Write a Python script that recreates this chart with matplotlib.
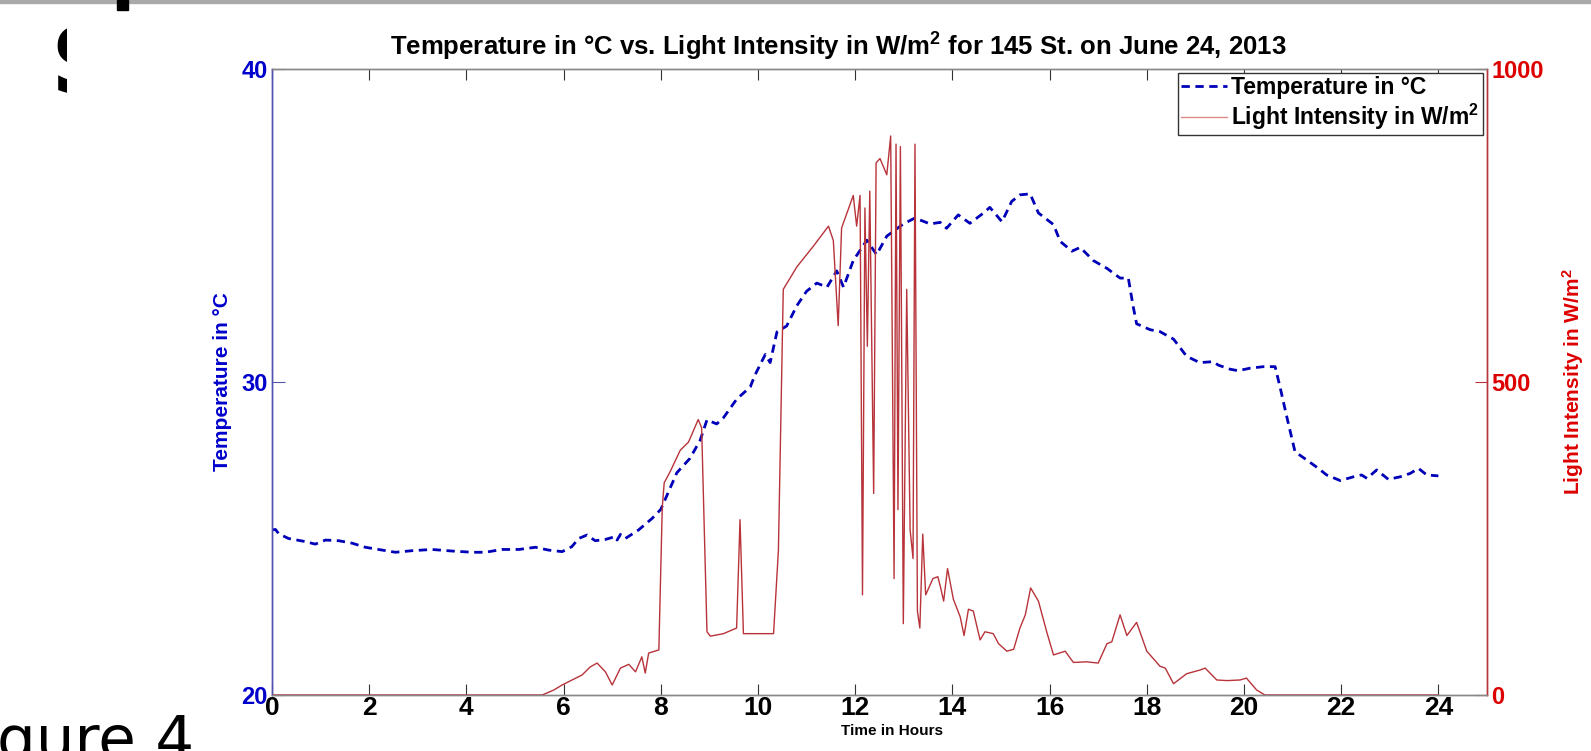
import numpy as np
import matplotlib
matplotlib.use('Agg')
import matplotlib.pyplot as plt
from matplotlib.patches import Rectangle
from matplotlib.transforms import Bbox, TransformedBbox

plt.rcParams['font.family'] = ['Liberation Sans', 'DejaVu Sans']
plt.rcParams['font.weight'] = 'bold'
plt.rcParams['mathtext.fontset'] = 'custom'
plt.rcParams['mathtext.rm'] = 'Liberation Sans:bold'
plt.rcParams['mathtext.bf'] = 'Liberation Sans:bold'
plt.rcParams['mathtext.default'] = 'rm'

# temperature readings (hours, deg C)
temp_hours = [0.0, 0.07, 0.14, 0.34, 0.69, 0.89, 1.10, 1.37, 1.65, 1.92, 2.19, 2.54, 2.88,
              3.29, 3.70, 4.12, 4.39, 4.73, 5.08, 5.42, 5.69, 5.97, 6.17, 6.31, 6.48, 6.65,
              6.86, 7.06, 7.10, 7.17, 7.27, 7.54, 7.82, 8.0, 8.33, 8.6, 8.81, 8.95, 9.15,
              9.29, 9.56, 9.84, 9.94, 10.15, 10.25, 10.39, 10.59, 10.8, 11.0, 11.21, 11.42,
              11.62, 11.76, 11.96, 12.24, 12.44, 12.65, 12.99, 13.23, 13.54, 13.75, 13.88,
              14.12, 14.36, 14.64, 14.77, 15.02, 15.22, 15.39, 15.6, 15.77, 16.08, 16.22,
              16.46, 16.63, 16.9, 17.18, 17.45, 17.62, 17.72, 17.79, 18.07, 18.27, 18.55,
              18.82, 19.09, 19.37, 19.47, 19.71, 19.88, 20.12, 20.4, 20.64, 20.74, 20.88,
              21.05, 21.29, 21.53, 21.7, 21.98, 22.25, 22.42, 22.53, 22.73, 22.97, 23.21,
              23.42, 23.59, 23.76, 24.0]
temp_c = [25.27, 25.29, 25.15, 25.0, 24.9, 24.82, 24.95, 24.93, 24.85, 24.72, 24.65, 24.56, 24.61,
          24.65, 24.60, 24.56, 24.56, 24.65, 24.65, 24.72, 24.63, 24.58, 24.74, 25.0, 25.11, 24.93,
          24.97, 25.06, 24.95, 25.13, 25.0, 25.27, 25.64, 25.93, 27.10, 27.56, 28.14, 28.79, 28.66,
          28.86, 29.45, 29.84, 30.23, 30.88, 30.62, 31.6, 31.79, 32.44, 32.9, 33.16, 33.03,
          33.55, 33.03, 33.88, 34.53, 34.07, 34.66, 35.05, 35.24, 35.05, 35.1, 34.91,
          35.34, 35.07, 35.40, 35.58, 35.12, 35.77, 35.98, 36.01, 35.40, 35.03, 34.49,
          34.18, 34.30, 33.88, 33.63, 33.32, 33.32, 32.41, 31.86, 31.67, 31.61, 31.37,
          30.82, 30.62, 30.65, 30.54, 30.41, 30.36, 30.44, 30.49, 30.49, 29.85, 28.89,
          27.77, 27.51, 27.24, 27.03, 26.85, 26.97, 27.03, 26.92, 27.19, 26.89, 26.97,
          27.08, 27.24, 27.03, 27.0]

# light intensity readings (hours, W/m^2)
light_hours = [0.0, 5.56, 5.8, 5.97, 6.2, 6.38, 6.55, 6.69, 6.86, 7.0, 7.17, 7.34, 7.48, 7.61,
               7.68, 7.75, 7.96, 8.03, 8.07, 8.2, 8.4, 8.57, 8.77, 8.84, 8.95, 9.02, 9.29, 9.56,
               9.63, 9.7, 10.32, 10.42, 10.52, 10.8, 11.14, 11.45, 11.55, 11.65, 11.72, 11.96,
               12.03, 12.1, 12.15, 12.2, 12.25, 12.3, 12.38, 12.43, 12.51, 12.65, 12.73, 12.8,
               12.84, 12.88, 12.93, 12.99, 13.06, 13.13, 13.19, 13.23, 13.28, 13.33, 13.39,
               13.45, 13.6, 13.7, 13.75, 13.82, 13.9, 14.02, 14.16, 14.24, 14.33, 14.43, 14.57,
               14.67, 14.84, 14.95, 15.12, 15.26, 15.39, 15.5, 15.61, 15.77, 15.94, 16.08,
               16.32, 16.49, 16.76, 17.0, 17.18, 17.28, 17.45, 17.59, 17.79, 18.0, 18.27,
               18.38, 18.55, 18.82, 19.1, 19.2, 19.44, 19.65, 19.92, 20.05, 20.26, 20.43, 24.0]
light_wm2 = [0, 0, 8, 16, 25, 32, 45, 51, 37, 16, 43, 49, 37, 61,
             35, 67, 72, 300, 339, 358, 391, 404, 440, 427, 101, 94, 98, 107,
             280, 98, 98, 231, 648, 684, 717, 749, 726, 590, 746, 798,
             749, 798, 160, 778, 557, 805, 322, 850, 857, 831, 893, 186,
             880, 296, 876, 114, 648, 264, 218, 880, 134, 107, 257,
             160, 186, 189, 174, 150, 202, 153, 125, 95, 137, 134, 88,
             101, 98, 82, 70, 73, 107, 128, 171, 150, 101, 64,
             70, 52, 53, 51, 82, 85, 128, 95, 116, 70, 46,
             43, 18, 34, 40, 43, 24, 23, 24, 27, 8, 0, 0]

blue = '#0000b8'
red = '#b8333a'

fig = plt.figure(figsize=(15.91, 7.51), dpi=100)
W, H = 1591.0, 751.0
ax = fig.add_axes([272 / W, 56 / H, (1487 - 272) / W, (695 - 69) / H])
ax2 = ax.twinx()

l1, = ax.plot(temp_hours, temp_c, color=blue, lw=2, dashes=(3, 2))
l2, = ax2.plot(light_hours, light_wm2, color=red, lw=1)

ax.set_xlim(0, 25)
ax.set_ylim(20, 40)
ax2.set_ylim(0, 1000)
ax.set_xticks(range(0, 25, 2))
ax.set_yticks([20, 30, 40])
ax2.set_yticks([0, 500, 1000])

ax.tick_params(axis='x', direction='in', length=8, top=True, labelsize=19, pad=1, color='#333333')
ax.tick_params(axis='y', direction='in', length=9, colors='#0000cc', labelsize=17, pad=3)
ax2.tick_params(axis='y', direction='in', length=9, colors='#dd0000', labelsize=17, pad=3)
ax2.tick_params(axis='y', color=red)
ax.tick_params(axis='y', color='#5555aa')
for lab in ax.get_xticklabels() + ax.get_yticklabels() + ax2.get_yticklabels():
    lab.set_fontweight('bold')

for a in (ax, ax2):
    a.spines['top'].set_color('#888888')
    a.spines['bottom'].set_color('#888888')
    a.spines['left'].set_color('#5050b0')
    a.spines['right'].set_color(red)
    for s in a.spines.values():
        s.set_linewidth(1)

ax.set_title('Temperature in °C vs. Light Intensity in W/m$^2$ for 145 St. on June 24, 2013',
             fontsize=18.5, fontweight='bold', pad=10, x=0.466)
ax.set_ylabel('Temperature in °C', color='#0000cc', fontsize=15, fontweight='bold')
ax.yaxis.set_label_coords(-0.033, 0.5)
ax2.set_ylabel('Light Intensity in W/m$^2$', color='#dd0000', fontsize=15, fontweight='bold')
ax2.yaxis.set_label_coords(1.06, 0.5)
ax.set_xlabel('Time in Hours', fontsize=11, fontweight='bold')
ax.xaxis.set_label_coords(0.51, -0.047)

leg = ax2.legend([l1, l2], ['Temperature in °C', 'Light Intensity in W/m$^2$'],
                 loc='upper right', bbox_to_anchor=(0.9967, 0.9936), borderaxespad=0,
                 fancybox=False, framealpha=1, edgecolor='#333333',
                 handlelength=2.0, handletextpad=0.2, labelspacing=0.1, borderpad=0.15,
                 prop={'weight': 'bold', 'size': 16.5})
leg.get_frame().set_linewidth(1)
leg.get_lines()[1].set_color('#e08a8a')

# slide leftovers around the chart
fig.patches.append(Rectangle((0, 1 - 3 / H), 1, 3 / H, transform=fig.transFigure,
                             color='#a9a9a9', zorder=5))
fig.patches.append(Rectangle((117 / W, 1 - 10 / H), 11 / W, 10 / H, transform=fig.transFigure,
                             color='black', zorder=5))
s = fig.text(50 / W, 1 - 23 / H, 'S', fontsize=66, family='DejaVu Sans', fontweight='bold',
             va='top', ha='left')
s.set_clip_box(TransformedBbox(Bbox([[0, 0], [67 / W, 1]]), fig.transFigure))
s.set_clip_on(True)
fig.text(-3 / W, -8 / H, 'gure 4', fontsize=44, family='DejaVu Sans', fontweight='normal',
         va='baseline', ha='left')

fig.savefig('out.png', dpi=100)
